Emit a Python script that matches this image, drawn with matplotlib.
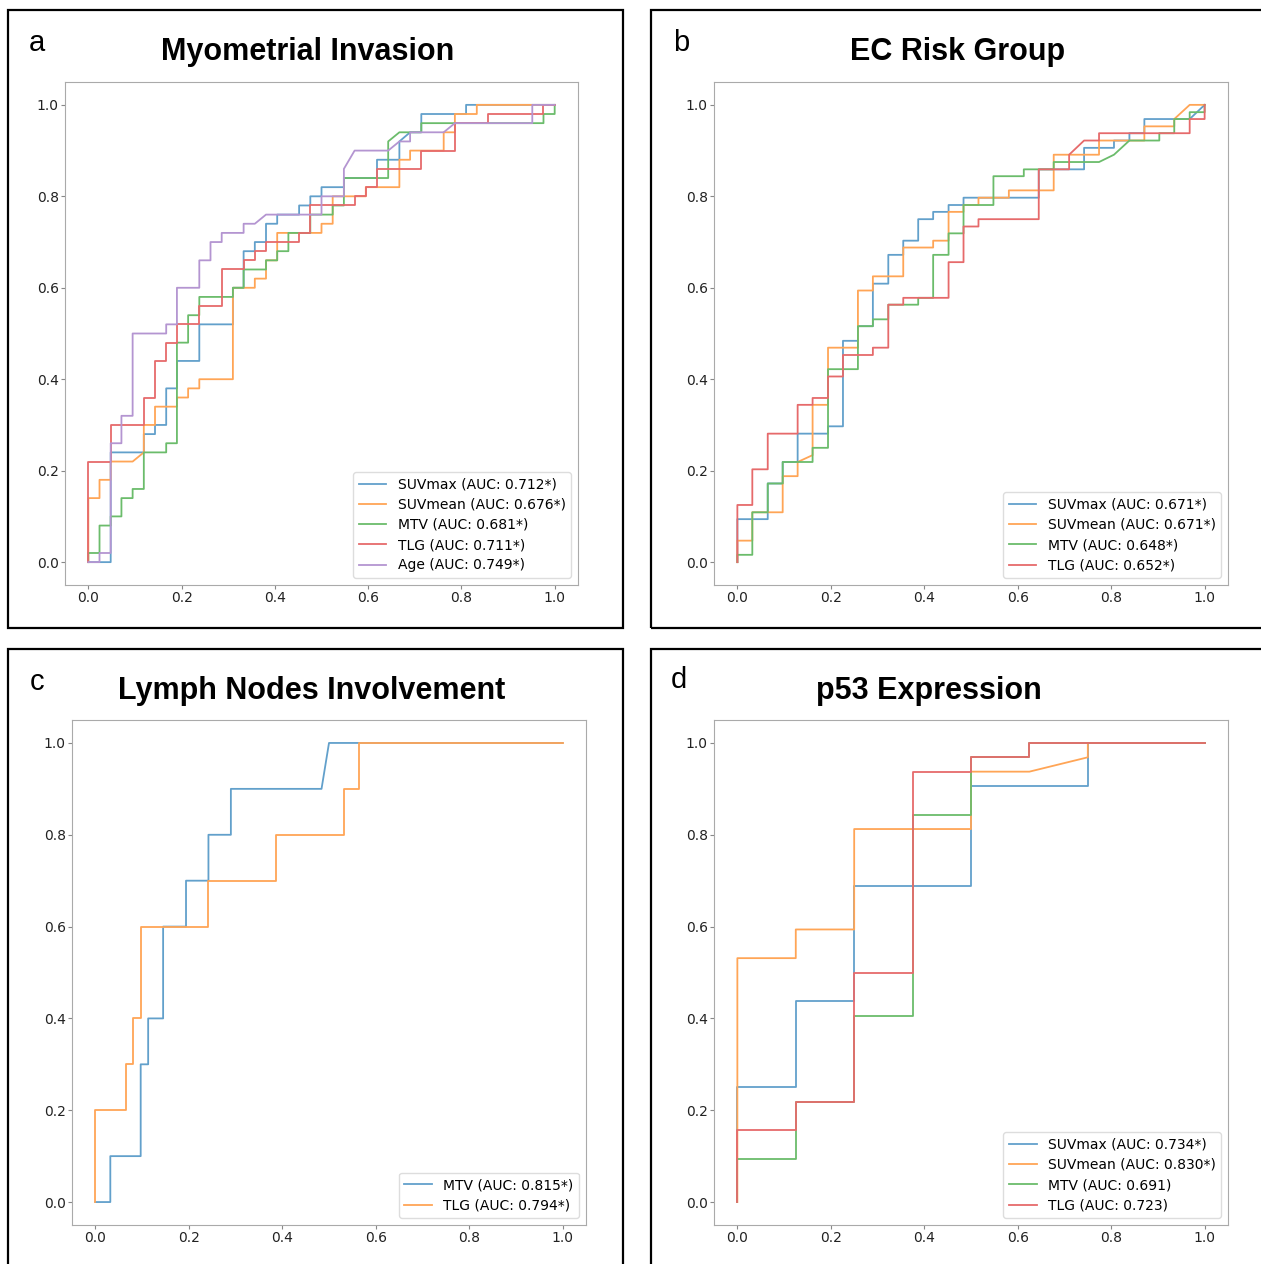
import matplotlib
matplotlib.use("Agg")
import matplotlib.pyplot as plt
import matplotlib.patches as mpatches

# ---- a: Myometrial Invasion ----
a_suvmax_fpr = [0, 0.048, 0.048, 0.119, 0.119, 0.143, 0.143, 0.167, 0.167, 0.190, 0.190, 0.238, 0.238,
                0.310, 0.310, 0.333, 0.333, 0.357, 0.357, 0.381, 0.381, 0.405, 0.405, 0.452, 0.452,
                0.476, 0.476, 0.500, 0.500, 0.548, 0.548, 0.619, 0.619, 0.667, 0.667, 0.690, 0.714,
                0.714, 0.810, 0.810, 1.0]
a_suvmax_tpr = [0, 0, 0.24, 0.24, 0.28, 0.28, 0.30, 0.30, 0.38, 0.38, 0.44, 0.44, 0.52, 0.52, 0.60, 0.60,
                0.68, 0.68, 0.70, 0.70, 0.74, 0.74, 0.76, 0.76, 0.78, 0.78, 0.80, 0.80, 0.82, 0.82, 0.84,
                0.84, 0.88, 0.88, 0.92, 0.94, 0.94, 0.98, 0.98, 1.0, 1.0]
a_suvmean_fpr = [0, 0, 0.024, 0.024, 0.048, 0.048, 0.095, 0.119, 0.119, 0.143, 0.143, 0.190, 0.190, 0.214,
                 0.214, 0.238, 0.238, 0.310, 0.310, 0.357, 0.357, 0.381, 0.381, 0.405, 0.405, 0.500, 0.500,
                 0.524, 0.524, 0.595, 0.595, 0.667, 0.667, 0.690, 0.690, 0.762, 0.762, 0.786, 0.786, 0.833,
                 0.833, 1.0]
a_suvmean_tpr = [0, 0.14, 0.14, 0.18, 0.18, 0.22, 0.22, 0.24, 0.30, 0.30, 0.34, 0.34, 0.36, 0.36, 0.38, 0.38,
                 0.40, 0.40, 0.60, 0.60, 0.62, 0.62, 0.66, 0.66, 0.72, 0.72, 0.74, 0.74, 0.80, 0.80, 0.82,
                 0.82, 0.88, 0.88, 0.90, 0.90, 0.94, 0.94, 0.98, 0.98, 1.0, 1.0]
a_mtv_fpr = [0, 0, 0.024, 0.024, 0.048, 0.048, 0.071, 0.071, 0.095, 0.095, 0.119, 0.119, 0.167, 0.167, 0.190,
             0.190, 0.214, 0.214, 0.238, 0.238, 0.310, 0.310, 0.333, 0.333, 0.381, 0.381, 0.405, 0.405, 0.429,
             0.429, 0.476, 0.476, 0.524, 0.524, 0.548, 0.548, 0.643, 0.643, 0.667, 0.714, 0.714, 0.976, 0.976,
             1.0, 1.0]
a_mtv_tpr = [0, 0.02, 0.02, 0.08, 0.08, 0.10, 0.10, 0.14, 0.14, 0.16, 0.16, 0.24, 0.24, 0.26, 0.26, 0.48, 0.48,
             0.54, 0.54, 0.58, 0.58, 0.60, 0.60, 0.64, 0.64, 0.66, 0.66, 0.68, 0.68, 0.72, 0.72, 0.76, 0.76,
             0.78, 0.78, 0.84, 0.84, 0.92, 0.94, 0.94, 0.96, 0.96, 0.98, 0.98, 1.0]
a_tlg_fpr = [0, 0, 0.048, 0.048, 0.119, 0.119, 0.143, 0.143, 0.167, 0.167, 0.190, 0.190, 0.238, 0.238, 0.286,
             0.286, 0.333, 0.333, 0.357, 0.357, 0.381, 0.381, 0.452, 0.452, 0.476, 0.476, 0.571, 0.571, 0.595,
             0.595, 0.619, 0.619, 0.714, 0.714, 0.786, 0.786, 0.857, 0.857, 0.976, 0.976, 1.0]
a_tlg_tpr = [0, 0.22, 0.22, 0.30, 0.30, 0.36, 0.36, 0.44, 0.44, 0.48, 0.48, 0.52, 0.52, 0.56, 0.56, 0.64, 0.64,
             0.66, 0.66, 0.68, 0.68, 0.70, 0.70, 0.72, 0.72, 0.78, 0.78, 0.80, 0.80, 0.82, 0.82, 0.86, 0.86,
             0.90, 0.90, 0.96, 0.96, 0.98, 0.98, 1.0, 1.0]
a_age_fpr = [0, 0.024, 0.024, 0.048, 0.048, 0.071, 0.071, 0.095, 0.095, 0.167, 0.167, 0.190, 0.190, 0.238,
             0.238, 0.262, 0.262, 0.286, 0.286, 0.333, 0.333, 0.357, 0.381, 0.500, 0.500, 0.548, 0.548, 0.571,
             0.643, 0.667, 0.690, 0.690, 0.762, 0.786, 0.952, 0.952, 1.0]
a_age_tpr = [0, 0, 0.02, 0.02, 0.26, 0.26, 0.32, 0.32, 0.50, 0.50, 0.52, 0.52, 0.60, 0.60, 0.66, 0.66, 0.70,
             0.70, 0.72, 0.72, 0.74, 0.74, 0.76, 0.76, 0.80, 0.80, 0.86, 0.90, 0.90, 0.92, 0.92, 0.94, 0.94,
             0.96, 0.96, 1.0, 1.0]

# ---- b: EC Risk Group ----
b_suvmax_fpr = [0, 0, 0.065, 0.065, 0.097, 0.097, 0.129, 0.129, 0.194, 0.194, 0.226, 0.226, 0.258, 0.258,
                0.290, 0.290, 0.323, 0.323, 0.355, 0.355, 0.387, 0.387, 0.419, 0.419, 0.452, 0.452, 0.484,
                0.484, 0.645, 0.645, 0.742, 0.742, 0.806, 0.806, 0.839, 0.839, 0.871, 0.871, 0.968, 1.0]
b_suvmax_tpr = [0, 0.094, 0.094, 0.172, 0.172, 0.219, 0.219, 0.281, 0.281, 0.297, 0.297, 0.484, 0.484, 0.516,
                0.516, 0.609, 0.609, 0.672, 0.672, 0.703, 0.703, 0.750, 0.750, 0.766, 0.766, 0.781, 0.781,
                0.797, 0.797, 0.859, 0.859, 0.906, 0.906, 0.922, 0.922, 0.938, 0.938, 0.969, 0.969, 1.0]
b_suvmean_fpr = [0, 0, 0.032, 0.032, 0.097, 0.097, 0.129, 0.129, 0.161, 0.161, 0.194, 0.194, 0.258, 0.258,
                 0.290, 0.290, 0.355, 0.355, 0.419, 0.419, 0.452, 0.452, 0.484, 0.484, 0.516, 0.516, 0.581,
                 0.581, 0.677, 0.677, 0.774, 0.774, 0.871, 0.871, 0.935, 0.935, 0.968, 1.0]
b_suvmean_tpr = [0, 0.047, 0.047, 0.109, 0.109, 0.188, 0.188, 0.219, 0.234, 0.344, 0.344, 0.469, 0.469, 0.594,
                 0.594, 0.625, 0.625, 0.688, 0.688, 0.703, 0.703, 0.766, 0.766, 0.781, 0.781, 0.797, 0.797,
                 0.813, 0.813, 0.891, 0.891, 0.922, 0.922, 0.953, 0.953, 0.969, 1.0, 1.0]
b_mtv_fpr = [0, 0, 0.032, 0.032, 0.065, 0.065, 0.097, 0.097, 0.161, 0.161, 0.194, 0.194, 0.258, 0.258, 0.290,
             0.290, 0.323, 0.323, 0.387, 0.387, 0.419, 0.419, 0.452, 0.452, 0.484, 0.484, 0.548, 0.548, 0.613,
             0.613, 0.677, 0.677, 0.774, 0.806, 0.839, 0.903, 0.903, 0.935, 0.935, 0.968, 0.968, 1.0, 1.0]
b_mtv_tpr = [0, 0.016, 0.016, 0.109, 0.109, 0.172, 0.172, 0.219, 0.219, 0.25, 0.25, 0.422, 0.422, 0.516, 0.516,
             0.531, 0.531, 0.563, 0.563, 0.578, 0.578, 0.672, 0.672, 0.719, 0.719, 0.781, 0.781, 0.844, 0.844,
             0.859, 0.859, 0.875, 0.875, 0.891, 0.922, 0.922, 0.938, 0.938, 0.969, 0.969, 0.984, 0.984, 1.0]
b_tlg_fpr = [0, 0, 0.032, 0.032, 0.065, 0.065, 0.129, 0.129, 0.161, 0.161, 0.194, 0.194, 0.226, 0.226, 0.290,
             0.290, 0.323, 0.323, 0.355, 0.355, 0.452, 0.452, 0.484, 0.484, 0.516, 0.516, 0.645, 0.645, 0.710,
             0.710, 0.742, 0.774, 0.774, 0.968, 0.968, 1.0, 1.0]
b_tlg_tpr = [0, 0.125, 0.125, 0.203, 0.203, 0.281, 0.281, 0.344, 0.344, 0.359, 0.359, 0.406, 0.406, 0.453,
             0.453, 0.469, 0.469, 0.563, 0.563, 0.578, 0.578, 0.656, 0.656, 0.734, 0.734, 0.75, 0.75, 0.859,
             0.859, 0.891, 0.922, 0.922, 0.938, 0.938, 0.969, 0.969, 1.0]

# ---- c: Lymph Nodes Involvement ----
c_mtv_fpr = [0, 0.032, 0.032, 0.097, 0.097, 0.113, 0.113, 0.145, 0.145, 0.194, 0.194, 0.242, 0.242, 0.290,
             0.290, 0.484, 0.500, 0.565, 1.0]
c_mtv_tpr = [0, 0, 0.1, 0.1, 0.3, 0.3, 0.4, 0.4, 0.6, 0.6, 0.7, 0.7, 0.8, 0.8, 0.9, 0.9, 1.0, 1.0, 1.0]
c_tlg_fpr = [0, 0, 0.065, 0.065, 0.081, 0.081, 0.097, 0.097, 0.242, 0.242, 0.387, 0.387, 0.532, 0.532, 0.565,
             0.565, 1.0]
c_tlg_tpr = [0, 0.2, 0.2, 0.3, 0.3, 0.4, 0.4, 0.6, 0.6, 0.7, 0.7, 0.8, 0.8, 0.9, 0.9, 1.0, 1.0]

# ---- d: p53 Expression ----
d_suvmax_fpr = [0, 0, 0.125, 0.125, 0.25, 0.25, 0.5, 0.5, 0.75, 0.75, 1.0]
d_suvmax_tpr = [0, 0.25, 0.25, 0.4375, 0.4375, 0.6875, 0.6875, 0.90625, 0.90625, 1.0, 1.0]
d_suvmean_fpr = [0, 0, 0.125, 0.125, 0.25, 0.25, 0.5, 0.5, 0.625, 0.75, 0.75, 1.0]
d_suvmean_tpr = [0, 0.53125, 0.53125, 0.59375, 0.59375, 0.8125, 0.8125, 0.9375, 0.9375, 0.96875, 1.0, 1.0]
d_mtv_fpr = [0, 0, 0.125, 0.125, 0.25, 0.25, 0.375, 0.375, 0.5, 0.5, 0.625, 0.625, 1.0]
d_mtv_tpr = [0, 0.09375, 0.09375, 0.21875, 0.21875, 0.40625, 0.40625, 0.84375, 0.84375, 0.96875, 0.96875,
             1.0, 1.0]
d_tlg_fpr = [0, 0, 0.125, 0.125, 0.25, 0.25, 0.375, 0.375, 0.5, 0.5, 0.625, 0.625, 1.0]
d_tlg_tpr = [0, 0.15625, 0.15625, 0.21875, 0.21875, 0.5, 0.5, 0.9375, 0.9375, 0.96875, 0.96875, 1.0, 1.0]

TICKS = [0.0, 0.2, 0.4, 0.6, 0.8, 1.0]
# tab10 colours, washed out the way the reference looks
COLORS = ["#62a0cb", "#ffa556", "#6bbc6b", "#e66a6b", "#b495d1"]

W, H = 1261, 1264


def px_axes(fig, left, top, right, bottom):
    return fig.add_axes([left / W, 1 - bottom / H, (right - left) / W, (bottom - top) / H])


def roc_panel(ax, curves, labels):
    for (fpr, tpr), lab, col in zip(curves, labels, COLORS):
        ax.plot(fpr, tpr, color=col, lw=1.3, label=lab)
    ax.set_xticks(TICKS)
    ax.set_yticks(TICKS)
    ax.tick_params(labelsize=10, length=3, pad=1.5, color="#888888", labelcolor="#222222")
    for s in ax.spines.values():
        s.set_color("#aaaaaa")
    leg = ax.legend(loc="lower right", fontsize=10, framealpha=1, labelspacing=0.45)
    leg.get_frame().set_edgecolor("#dddddd")


fig = plt.figure(figsize=(W / 100, H / 100), dpi=100)

ax_a = px_axes(fig, 65, 82, 578, 585)
roc_panel(ax_a,
          [(a_suvmax_fpr, a_suvmax_tpr), (a_suvmean_fpr, a_suvmean_tpr), (a_mtv_fpr, a_mtv_tpr),
           (a_tlg_fpr, a_tlg_tpr), (a_age_fpr, a_age_tpr)],
          ["SUVmax (AUC: 0.712*)", "SUVmean (AUC: 0.676*)", "MTV (AUC: 0.681*)",
           "TLG (AUC: 0.711*)", "Age (AUC: 0.749*)"])

ax_b = px_axes(fig, 714, 82, 1228, 585)
roc_panel(ax_b,
          [(b_suvmax_fpr, b_suvmax_tpr), (b_suvmean_fpr, b_suvmean_tpr), (b_mtv_fpr, b_mtv_tpr),
           (b_tlg_fpr, b_tlg_tpr)],
          ["SUVmax (AUC: 0.671*)", "SUVmean (AUC: 0.671*)", "MTV (AUC: 0.648*)", "TLG (AUC: 0.652*)"])

ax_c = px_axes(fig, 72, 720, 586, 1225)
roc_panel(ax_c,
          [(c_mtv_fpr, c_mtv_tpr), (c_tlg_fpr, c_tlg_tpr)],
          ["MTV (AUC: 0.815*)", "TLG (AUC: 0.794*)"])

ax_d = px_axes(fig, 714, 720, 1228, 1225)
roc_panel(ax_d,
          [(d_suvmax_fpr, d_suvmax_tpr), (d_suvmean_fpr, d_suvmean_tpr), (d_mtv_fpr, d_mtv_tpr),
           (d_tlg_fpr, d_tlg_tpr)],
          ["SUVmax (AUC: 0.734*)", "SUVmean (AUC: 0.830*)", "MTV (AUC: 0.691)", "TLG (AUC: 0.723)"])

# titles and panel letters
titles = [("Myometrial Invasion", 308, 52), ("EC Risk Group", 958, 52),
          ("Lymph Nodes Involvement", 312, 691), ("p53 Expression", 929, 691)]
for txt, x, y in titles:
    fig.text(x / W, 1 - y / H, txt, ha="center", va="center", fontsize=22,
             fontweight="bold", family="Liberation Sans")
letters = [("a", 37, 43), ("b", 681, 43), ("c", 37, 682), ("d", 679, 680)]
for txt, x, y in letters:
    fig.text(x / W, 1 - y / H, txt, ha="center", va="center", fontsize=21,
             family="Liberation Sans")

# panel frames (right/bottom ones run off the page)
boxes = [(8, 10, 623, 628), (651, 10, 1290, 628), (8, 649, 623, 1290), (651, 649, 1290, 1290)]
for l, t, r, b in boxes:
    fig.patches.append(mpatches.Rectangle((l / W, 1 - b / H), (r - l) / W, (b - t) / H,
                                          transform=fig.transFigure, fill=False,
                                          edgecolor="black", lw=1.6, clip_on=False))

fig.savefig("out.png", dpi=100)
